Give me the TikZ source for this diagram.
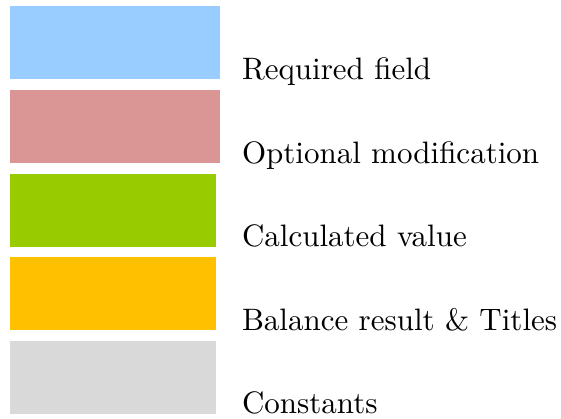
\documentclass[tikz,border=0pt]{standalone}
\usepackage{graphicx}
\definecolor{creq}{HTML}{99CCFF}
\definecolor{copt}{HTML}{DA9694}
\definecolor{ccalc}{HTML}{99CC00}
\definecolor{cbal}{HTML}{FFC000}
\definecolor{ccon}{HTML}{D9D9D9}
\newcommand{\biglbl}[1]{\scalebox{3.1}{\fontsize{10}{12}\selectfont #1}}
\begin{document}
\begin{tikzpicture}[x=1pt,y=-1pt,
  swatch/.style={inner sep=0pt,outer sep=0pt,draw=none,minimum height=73pt,anchor=north west},
  lbl/.style={inner sep=0pt,outer sep=0pt,anchor=base west}]
\useasboundingbox (0,0) rectangle (561,418);
\node[swatch,fill=creq,minimum width=210pt] (s1) at (10,6) {};
\node[swatch,fill=copt,minimum width=210pt] (s2) at (10,89.75) {};
\node[swatch,fill=ccalc,minimum width=206pt] (s3) at (10,173.5) {};
\node[swatch,fill=cbal,minimum width=206pt] (s4) at (10,257.25) {};
\node[swatch,fill=ccon,minimum width=206pt] (s5) at (10,341) {};
\node[lbl] (t1) at (242,79.5) {\biglbl{Required field}};
\node[lbl] (t2) at (242,163) {\biglbl{Optional modification}};
\node[lbl] (t3) at (242,246.5) {\biglbl{Calculated value}};
\node[lbl] (t4) at (242,330) {\biglbl{Balance result \& Titles}};
\node[lbl] (t5) at (242,413) {\biglbl{Constants}};
\end{tikzpicture}
\end{document}
